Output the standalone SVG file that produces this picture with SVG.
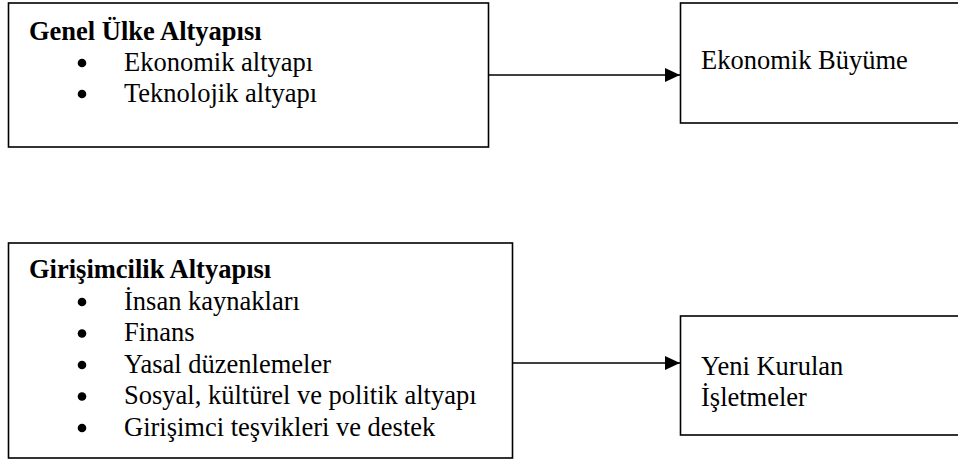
<svg xmlns="http://www.w3.org/2000/svg" width="958" height="459" viewBox="0 0 958 459">
<style>
.box{fill:#fff;stroke:#000;stroke-width:1.6}
.t{font-family:"Liberation Serif","Times New Roman",serif;font-size:26.5px;fill:#000}
.b{font-weight:bold}
.dot{fill:#000}
.ln{stroke:#000;stroke-width:1.6;fill:none}
</style>
<defs>
<marker id="ah" markerUnits="userSpaceOnUse" markerWidth="16" markerHeight="16" refX="15" refY="7" orient="auto">
<path d="M0,0 L15,7 L0,14 Z" fill="#000"/>
</marker>
</defs>
<rect width="958" height="459" fill="#fff"/>
<g id="genel">
<rect class="box" x="8.5" y="3" width="480" height="144"/>
<text class="t b" x="29" y="39.5">Genel Ülke Altyapısı</text>
<circle class="dot" cx="82" cy="63" r="4.3"/>
<text class="t" x="124" y="70.5">Ekonomik altyapı</text>
<circle class="dot" cx="82" cy="94" r="4.3"/>
<text class="t" x="124" y="101.5">Teknolojik altyapı</text>
</g>
<g id="buyume">
<rect class="box" x="680.5" y="3" width="290" height="120"/>
<text class="t" x="701" y="69">Ekonomik Büyüme</text>
</g>
<g id="girisim">
<rect class="box" x="8.5" y="243" width="504" height="215"/>
<text class="t b" x="29" y="278">Girişimcilik Altyapısı</text>
<circle class="dot" cx="82" cy="302" r="4.3"/>
<text class="t" x="124" y="309.5">İnsan kaynakları</text>
<circle class="dot" cx="82" cy="333.5" r="4.3"/>
<text class="t" x="124" y="341">Finans</text>
<circle class="dot" cx="82" cy="365" r="4.3"/>
<text class="t" x="124" y="372.5">Yasal düzenlemeler</text>
<circle class="dot" cx="82" cy="396.5" r="4.3"/>
<text class="t" x="124" y="404">Sosyal, kültürel ve politik altyapı</text>
<circle class="dot" cx="82" cy="428" r="4.3"/>
<text class="t" x="124" y="435.5">Girişimci teşvikleri ve destek</text>
</g>
<g id="yeni">
<rect class="box" x="680.5" y="316" width="290" height="119"/>
<text class="t" x="701" y="375">Yeni Kurulan</text>
<text class="t" x="701" y="406">İşletmeler</text>
</g>
<g id="connectors">
<line class="ln" x1="489" y1="75" x2="680" y2="75" marker-end="url(#ah)"/>
<line class="ln" x1="513" y1="363" x2="680" y2="363" marker-end="url(#ah)"/>
</g>
</svg>
